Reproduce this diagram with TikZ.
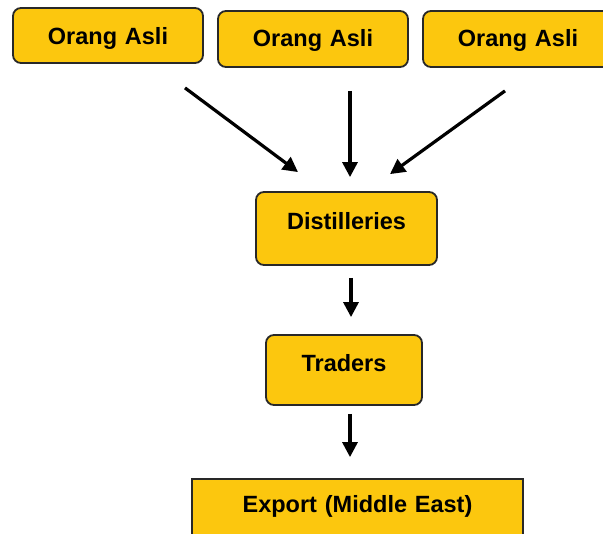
\documentclass[tikz,border=0pt]{standalone}
\usepackage{fontspec}
\setmainfont{Liberation Sans}
\usepackage{tikz}
\usetikzlibrary{arrows.meta,positioning}
\definecolor{boxyellow}{RGB}{252,199,14}
\definecolor{boxline}{RGB}{40,40,40}
\tikzset{
    %Define standard arrow tip
    >={Triangle[length=15pt,width=15pt]},
    %Define style for boxes
    stage/.style={
           rectangle,
           rounded corners=8pt,
           draw=boxline, line width=1.8pt,
           fill=boxyellow,
           inner sep=0pt,
           anchor=base,
           font=\fontsize{23.5}{28}\selectfont\bfseries,
           text centered},
    stagesq/.style={
           stage,
           sharp corners},
    % Define arrow style
    pil/.style={
           ->,
           line width=3.2pt,
           black}
}
\begin{document}
\begin{tikzpicture}[x=1pt,y=-1pt]
\useasboundingbox (0,0) rectangle (603,534);
\clip (0,0) rectangle (603,534);
% sources
\node[stage, text width=190pt, text height=37pt, text depth=18pt] (asli1) at (108,45) {Orang Asli};
\node[stage, text width=190pt, text height=36pt, text depth=20pt] (asli2) at (313,47) {Orang Asli};
\node[stage, text width=190pt, text height=36pt, text depth=20pt] (asli3) at (518,47) {Orang Asli};
% chain
\node[stage, text width=181pt, text height=38pt, text depth=35pt] (dist) at (346.5,230) {Distilleries};
\node[stage, text width=156pt, text height=37pt, text depth=33pt] (trad) at (344,372) {Traders};
\node[stagesq, text width=331pt, text height=34pt, text depth=34pt] (export) at (357.5,513) {Export (Middle East)};
% arrows
\draw[pil] ([shift={(77,24)}]asli1.south) -- ([shift={(-48.5,-19)}]dist.north);
\draw[pil] ([shift={(37,23)}]asli2.south) -- ([shift={(3.5,-14)}]dist.north);
\draw[pil] ([shift={(-13,23)}]asli3.south) -- ([shift={(43.5,-17)}]dist.north);
\draw[pil] ([shift={(4.5,12)}]dist.south) -- ([shift={(7,-17)}]trad.north);
\draw[pil] ([shift={(6,8)}]trad.south) -- ([shift={(-7.5,-21)}]export.north);
\end{tikzpicture}
\end{document}
